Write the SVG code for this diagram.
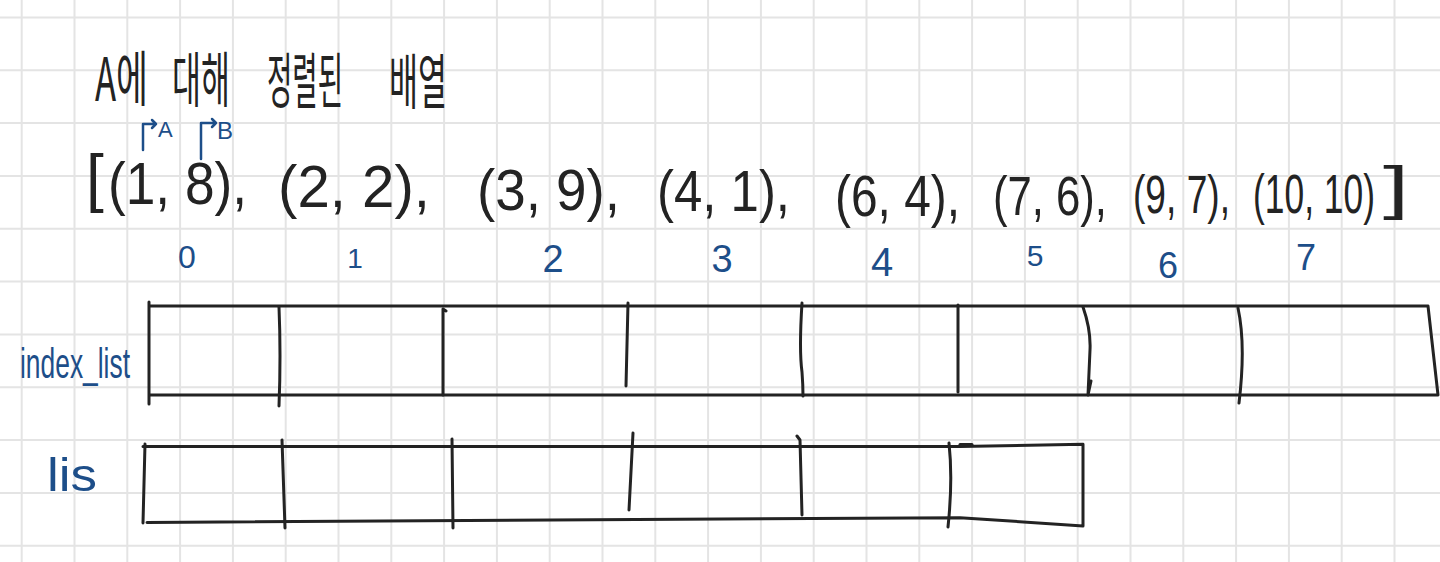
<svg xmlns="http://www.w3.org/2000/svg" width="1440" height="562" viewBox="0 0 1440 562">
<style>
.grid{stroke:#e4e4e4;stroke-width:2;fill:none}
.ink{stroke:#232323;stroke-width:3;fill:none;stroke-linecap:round;stroke-linejoin:round}
.blueink{stroke:#1d4e89;stroke-width:2.5;fill:none;stroke-linecap:round;stroke-linejoin:round}
.hand{font-family:"Liberation Sans","DejaVu Sans",sans-serif;fill:#232323}
.kr{font-family:"Noto Sans CJK KR","Noto Sans",sans-serif;fill:#232323;font-weight:400}
.blue{font-family:"Liberation Sans","DejaVu Sans",sans-serif;fill:#1d4e89}
</style>
<rect width="1440" height="562" fill="#ffffff"/>
<g id="grid">
<path class="grid" d="M21.7 0V562M74.5 0V562M127.3 0V562M180.1 0V562M232.9 0V562M285.7 0V562M338.5 0V562M391.3 0V562M444.1 0V562M496.9 0V562M549.7 0V562M602.5 0V562M655.3 0V562M708.1 0V562M760.9 0V562M813.7 0V562M866.5 0V562M919.3 0V562M972.1 0V562M1024.9 0V562M1077.7 0V562M1130.5 0V562M1183.3 0V562M1236.1 0V562M1288.9 0V562M1341.7 0V562M1394.5 0V562
M0 17.4H1440M0 70.2H1440M0 123.1H1440M0 175.9H1440M0 228.8H1440M0 281.6H1440M0 334.4H1440M0 387.3H1440M0 440.1H1440M0 493H1440M0 545.8H1440"/>
</g>
<g id="title">
<text class="kr" x="95" y="101" font-size="60" textLength="53" lengthAdjust="spacingAndGlyphs">A에</text>
<text class="kr" x="172" y="102" font-size="60" textLength="58" lengthAdjust="spacingAndGlyphs">대해</text>
<text class="kr" x="267" y="103" font-size="60" textLength="76" lengthAdjust="spacingAndGlyphs">정렬된</text>
<text class="kr" x="389" y="104" font-size="60" textLength="58" lengthAdjust="spacingAndGlyphs">배열</text>
</g>
<g id="pointer-a">
<path class="blueink" d="M143 150V124H156M152 120L156 124L152 128"/>
<text class="blue" x="158" y="137" font-size="22">A</text>
</g>
<g id="pointer-b">
<path class="blueink" d="M201 159V123H216M212 119L216 123L212 127"/>
<text class="blue" x="217" y="139" font-size="24">B</text>
</g>
<g id="sorted-list">
<text class="hand" x="86" y="200" font-size="64">[</text>
<text class="hand" x="108" y="204" font-size="60" textLength="139" lengthAdjust="spacingAndGlyphs">(1, 8),</text>
<text class="hand" x="278" y="207" font-size="60" textLength="152" lengthAdjust="spacingAndGlyphs">(2, 2),</text>
<text class="hand" x="477" y="210" font-size="58" textLength="143" lengthAdjust="spacingAndGlyphs">(3, 9),</text>
<text class="hand" x="657" y="211" font-size="58" textLength="133" lengthAdjust="spacingAndGlyphs">(4, 1),</text>
<text class="hand" x="835" y="216" font-size="58" textLength="125" lengthAdjust="spacingAndGlyphs">(6, 4),</text>
<text class="hand" x="993" y="215" font-size="56" textLength="114" lengthAdjust="spacingAndGlyphs">(7, 6),</text>
<text class="hand" x="1133" y="213" font-size="54" textLength="97" lengthAdjust="spacingAndGlyphs">(9, 7),</text>
<text class="hand" x="1253" y="213" font-size="56" textLength="122" lengthAdjust="spacingAndGlyphs">(10, 10)</text>
<text class="hand" x="1383" y="208" font-size="60" textLength="26" lengthAdjust="spacingAndGlyphs">]</text>
</g>
<g id="indices" text-anchor="middle">
<text class="blue" x="187" y="268" font-size="32">0</text>
<text class="blue" x="355" y="268" font-size="28">1</text>
<text class="blue" x="553" y="272" font-size="38">2</text>
<text class="blue" x="722" y="272" font-size="38">3</text>
<text class="blue" x="882" y="276" font-size="40">4</text>
<text class="blue" x="1035" y="266" font-size="30">5</text>
<text class="blue" x="1168" y="278" font-size="36">6</text>
<text class="blue" x="1306" y="270" font-size="36">7</text>
</g>
<g id="index-list">
<text class="blue" x="20" y="378" font-size="42" textLength="110" lengthAdjust="spacingAndGlyphs">index_list</text>
<path class="ink" d="M149 302V404M149 306H1428L1438 395H149"/>
<path class="ink" d="M279 307Q281 355 279 406M443 309V395M443 309L446 311M628 303L626 386M802 303Q799 350 802 372Q803 385 803 396M958 305V392M1083 307Q1091 330 1090 350L1088 395M1088 395L1091 381M1238 308Q1246 345 1239 403"/>
</g>
<g id="lis">
<text class="blue" x="47" y="491" font-size="46" textLength="50" lengthAdjust="spacingAndGlyphs">lis</text>
<path class="ink" d="M145 444L143 523M143 446.5H960L1083 444.3V526L960 517.7L147 522.5"/>
<path class="ink" d="M960 444.5H972" stroke-width="4"/>
<path class="ink" d="M282 440L285 528M452 439L453 528M633 433L629 510M797 436L800 440Q801 480 802 515M949 443Q953 480 948 527"/>
</g>
<g id="connectors"/>
</svg>
